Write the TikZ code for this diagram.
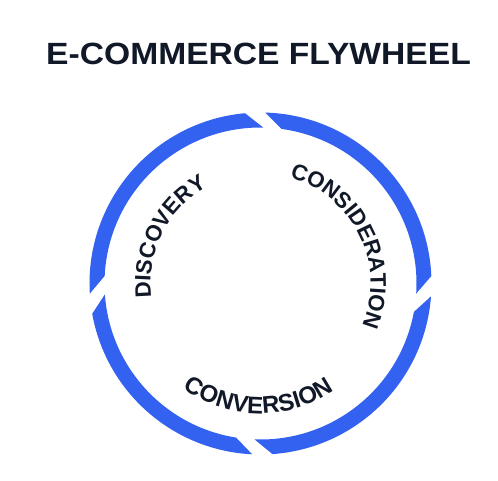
\documentclass[tikz,border=0pt]{standalone}
\usepackage{fontspec}
\setmainfont{Liberation Sans}
\usetikzlibrary{decorations.text}
\definecolor{ringblue}{RGB}{52,98,240}
\definecolor{inkdark}{HTML}{111827}
\newcommand{\labelfont}{\fontsize{22.3}{28}\selectfont\bfseries}
\newcommand{\labelfontb}{\fontsize{24}{28}\selectfont\bfseries}
\newcommand{\ringseg}[2]{%
  \fill[ringblue] ([shift={(c)}]{#1+6.5}:171) arc[start angle={#1+6.5}, end angle={#2-0.3}, radius=171]
    -- ([shift={(c)}]{#2-6.5}:156) arc[start angle={#2-6.5}, end angle={#1+0.3}, radius=156] -- cycle;}
\begin{document}
\begin{tikzpicture}[x=1pt,y=1pt]
  \fill[white] (0,0) rectangle (498,480);
  \useasboundingbox (0,0) rectangle (498,480);
  \coordinate (c) at (260.5,196.5);
  \node[font=\fontsize{30.7}{36}\selectfont\bfseries, text=inkdark, anchor=base, inner sep=0] (title) at (258.5,415) {\scalebox{1.095}[1]{E-COMMERCE FLYWHEEL}};
  \ringseg{-4}{88.7}
  \ringseg{88.7}{183.7}
  \ringseg{183.7}{267.5}
  \ringseg{267.5}{356}
  \path[decorate, decoration={text along path, text align=center, text={|\color{inkdark}\labelfont|DISCOVERY}}]
    ([shift={(c)}]203:110) arc[start angle=203, end angle=103, radius=110];
  \path[decorate, decoration={text along path, text align=center, text={|\color{inkdark}\labelfont|CONSIDERATION}}]
    ([shift={(c)}]86:110) arc[start angle=86, end angle=-34, radius=110];
  \path[decorate, decoration={text along path, text align=center, text={|\color{inkdark}\labelfontb|CONVERSION}}]
    ([shift={(c)}]-141:130) arc[start angle=-141, end angle=-41, radius=130];
\end{tikzpicture}
\end{document}
